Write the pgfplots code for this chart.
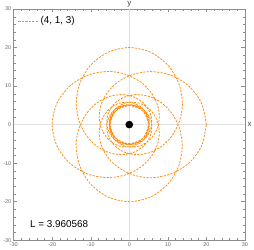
\documentclass[border=0pt]{standalone}
\usepackage{fontspec}
\setmainfont{Liberation Sans}
\usepackage{pgfplots}
\pgfplotsset{compat=1.18}
\usepackage{pgfplotstable}
\definecolor{orb}{RGB}{255,140,20}
\pgfplotstableread{
phi r
0 20
16.78 19.554
33.68 18.341
50.82 16.653
68.32 14.805
86.32 13.022
104.98 11.429
124.48 10.066
145.04 8.930
166.91 8.000
190.40 7.245
215.90 6.638
243.91 6.154
275.01 5.773
309.91 5.481
349.32 5.265
393.74 5.116
442.87 5.029
495.00 5.000
547.13 5.029
596.26 5.116
640.68 5.265
680.09 5.481
714.99 5.773
746.09 6.154
774.10 6.638
799.60 7.245
823.09 8.000
844.96 8.930
865.52 10.066
885.02 11.429
903.68 13.022
921.18 14.805
939.18 16.653
956.32 18.341
973.22 19.554
990 20
1006.78 19.554
1023.68 18.341
1040.82 16.653
1058.32 14.805
1076.32 13.022
1094.98 11.429
1114.48 10.066
1135.04 8.930
1156.91 8.000
1180.40 7.245
1205.90 6.638
1233.91 6.154
1265.01 5.773
1299.91 5.481
1339.32 5.265
1383.74 5.116
1432.87 5.029
1485.00 5.000
1537.13 5.029
1586.26 5.116
1630.68 5.265
1670.09 5.481
1704.99 5.773
1736.09 6.154
1764.10 6.638
1789.60 7.245
1813.09 8.000
1834.96 8.930
1855.52 10.066
1875.02 11.429
1893.68 13.022
1911.18 14.805
1929.18 16.653
1946.32 18.341
1963.22 19.554
1980 20
1996.78 19.554
2013.68 18.341
2030.82 16.653
2048.32 14.805
2066.32 13.022
2084.98 11.429
2104.48 10.066
2125.04 8.930
2146.91 8.000
2170.40 7.245
2195.90 6.638
2223.91 6.154
2255.01 5.773
2289.91 5.481
2329.32 5.265
2373.74 5.116
2422.87 5.029
2475.00 5.000
2527.13 5.029
2576.26 5.116
2620.68 5.265
2660.09 5.481
2694.99 5.773
2726.09 6.154
2754.10 6.638
2779.60 7.245
2803.09 8.000
2824.96 8.930
2845.52 10.066
2865.02 11.429
2883.68 13.022
2901.18 14.805
2919.18 16.653
2936.32 18.341
2953.22 19.554
2970 20
2986.78 19.554
3003.68 18.341
3020.82 16.653
3038.32 14.805
3056.32 13.022
3074.98 11.429
3094.48 10.066
3115.04 8.930
3136.91 8.000
3160.40 7.245
3185.90 6.638
3213.91 6.154
3245.01 5.773
3279.91 5.481
3319.32 5.265
3363.74 5.116
3412.87 5.029
3465.00 5.000
3517.13 5.029
3566.26 5.116
3610.68 5.265
3650.09 5.481
3684.99 5.773
3716.09 6.154
3744.10 6.638
3769.60 7.245
3793.09 8.000
3814.96 8.930
3835.52 10.066
3855.02 11.429
3873.68 13.022
3891.18 14.805
3909.18 16.653
3926.32 18.341
3943.22 19.554
3960 20
}\orbit
\begin{document}
\begin{tikzpicture}
\begin{axis}[
  scale only axis, width=233bp, height=233bp,
  xmin=-30, xmax=30, ymin=-30, ymax=30,
  xtick={-30,-20,...,30}, ytick={-30,-20,...,30},
  minor tick num=4,
  tick align=inside,
  xtick pos=both, ytick pos=both,
  xticklabel pos=lower, yticklabel pos=left,
  major tick length=3.5bp, minor tick length=2bp,
  axis line style={black!45, line width=0.5bp},
  every tick/.style={black!45, line width=0.4bp},
  tick label style={font=\fontsize{5.5}{6}\selectfont, text=black!60},
  xticklabel style={yshift=1bp},
  yticklabel style={xshift=1bp},
  /pgf/number format/assume math mode=true,
  xlabel={x}, ylabel={y},
  every axis x label/.style={at={(rel axis cs:1,0.5)}, anchor=west, font=\fontsize{8}{9}\selectfont, text=black!75, inner sep=2.5bp},
  every axis y label/.style={at={(rel axis cs:0.5,1)}, anchor=south, font=\fontsize{8}{9}\selectfont, text=black!75, inner sep=1.5bp},
  legend style={at={(rel axis cs:0.005,0.985)}, anchor=north west, draw=none, fill=none, font=\fontsize{10}{12}\selectfont, legend cell align=left},
  legend image code/.code={\draw[#1] (0bp,0bp) -- (20bp,0bp);},
]
\addplot[black!12, line width=0.6bp, forget plot] coordinates {(-30,0) (30,0)};
\addplot[black!12, line width=0.6bp, forget plot] coordinates {(0,-30) (0,30)};
\addplot[orb, line width=0.8bp, dash pattern=on 2.2bp off 1.3bp, smooth, no markers] table[data cs=polar, x=phi, y=r] {\orbit};
\addlegendentry{(4, 1, 3)}
\addplot[only marks, mark=*, mark size=3.6bp, black, forget plot] coordinates {(0,0)};
\node[font=\fontsize{10}{12}\selectfont] at (axis cs:-18.2,-25.9) {L = 3.960568};
\end{axis}
\end{tikzpicture}
\end{document}
